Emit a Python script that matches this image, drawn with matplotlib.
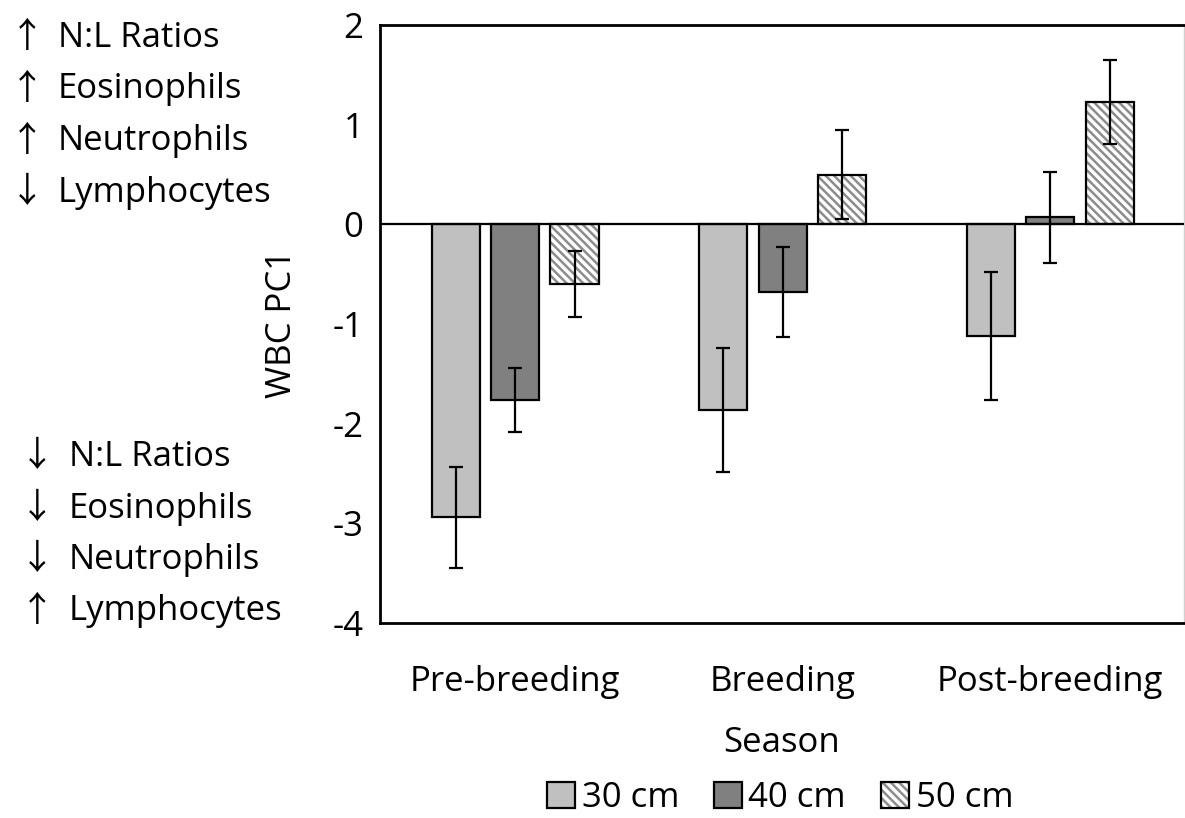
import matplotlib
matplotlib.use("Agg")
import matplotlib.pyplot as plt
from matplotlib.patches import Patch
from matplotlib.legend_handler import HandlerTuple
import numpy as np

plt.rcParams['font.family'] = ['Open Sans', 'DejaVu Sans']
plt.rcParams['hatch.linewidth'] = 1.8

seasons = ["Pre-breeding", "Breeding", "Post-breeding"]
groups = ["30 cm", "40 cm", "50 cm"]
means = {
    "30 cm": [-2.94, -1.86, -1.12],
    "40 cm": [-1.76, -0.68, 0.07],
    "50 cm": [-0.60, 0.50, 1.23],
}
errors = {
    "30 cm": [0.51, 0.62, 0.64],
    "40 cm": [0.32, 0.45, 0.46],
    "50 cm": [0.33, 0.45, 0.42],
}
yticks = [-4, -3, -2, -1, 0, 1, 2]
upper_arrows = ["↑", "↑", "↑", "↓"]
upper_notes = ["N:L Ratios", "Eosinophils", "Neutrophils", "Lymphocytes"]
lower_arrows = ["↓", "↓", "↓", "↑"]
lower_notes = ["N:L Ratios", "Eosinophils", "Neutrophils", "Lymphocytes"]

FS = 25
fig = plt.figure(figsize=(11.85, 8.18), dpi=100)
ax = fig.add_axes([380/1185, 195/818, 804/1185, 598/818])

x = np.arange(len(seasons))
width = 0.18
offsets = [-0.222, 0.0, 0.222]
colors = {"30 cm": "#c0c0c0", "40 cm": "#808080"}
HATCH = "\\\\\\\\"

handles = []
for g, off in zip(groups, offsets):
    xs = x + off
    if g == "50 cm":
        ax.bar(xs, means[g], width, facecolor="white", edgecolor="#8c8c8c",
               hatch=HATCH, linewidth=0, zorder=2)
        ax.bar(xs, means[g], width, fill=False, edgecolor="black", linewidth=1.6, zorder=3)
        h = (Patch(facecolor="white", edgecolor="#8c8c8c", hatch=HATCH, linewidth=0),
             Patch(fill=False, edgecolor="black", linewidth=1.6))
    else:
        ax.bar(xs, means[g], width, color=colors[g], edgecolor="black", linewidth=1.6, zorder=2)
        h = Patch(facecolor=colors[g], edgecolor="black", linewidth=1.6)
    ax.errorbar(xs, means[g], yerr=errors[g], fmt="none", ecolor="black",
                elinewidth=1.6, capsize=5, capthick=1.6, zorder=4)
    handles.append(h)

ax.axhline(0, color="black", linewidth=1.6, zorder=3)
ax.set_xlim(-0.505, 2.5)
ax.set_ylim(-4, 2)
ax.set_yticks(yticks)
ax.set_yticklabels([str(t) for t in yticks], fontsize=FS)
ax.set_xticks(x)
ax.set_xticklabels(seasons, fontsize=FS)
ax.tick_params(axis="y", length=0, pad=12)
ax.tick_params(axis="x", length=0, pad=30)
for s in ["left", "top", "bottom"]:
    ax.spines[s].set_linewidth(2)
    ax.spines[s].set_color("black")
ax.spines["right"].set_color("#d0d0d0")
ax.spines["right"].set_linewidth(1)
ax.set_ylabel("WBC PC1", fontsize=FS, labelpad=24)
ax.set_xlabel("Season", fontsize=FS, labelpad=20)

ax.legend(handles, groups, loc="center", bbox_to_anchor=(780/1185, 20/818),
          bbox_transform=fig.transFigure, ncol=3, frameon=False, fontsize=FS,
          handlelength=0.8, handleheight=0.8, handletextpad=0.2, columnspacing=1.0,
          handler_map={tuple: HandlerTuple(ndivide=1, pad=0)})

ARROW_FONT = ['Noto Sans CJK JP', 'DejaVu Sans']
for i, (a, t) in enumerate(zip(upper_arrows, upper_notes)):
    y = 1 - (38 + i * 51.5)/818
    fig.text(10/1185, y, a, fontsize=FS, va="center", ha="left", family=ARROW_FONT)
    fig.text(58/1185, y, t, fontsize=FS, va="center", ha="left")
for i, (a, t) in enumerate(zip(lower_arrows, lower_notes)):
    y = 1 - (457 + i * 51.5)/818
    fig.text(20/1185, y, a, fontsize=FS, va="center", ha="left", family=ARROW_FONT)
    fig.text(69/1185, y, t, fontsize=FS, va="center", ha="left")

fig.savefig("out.png", dpi=100)
